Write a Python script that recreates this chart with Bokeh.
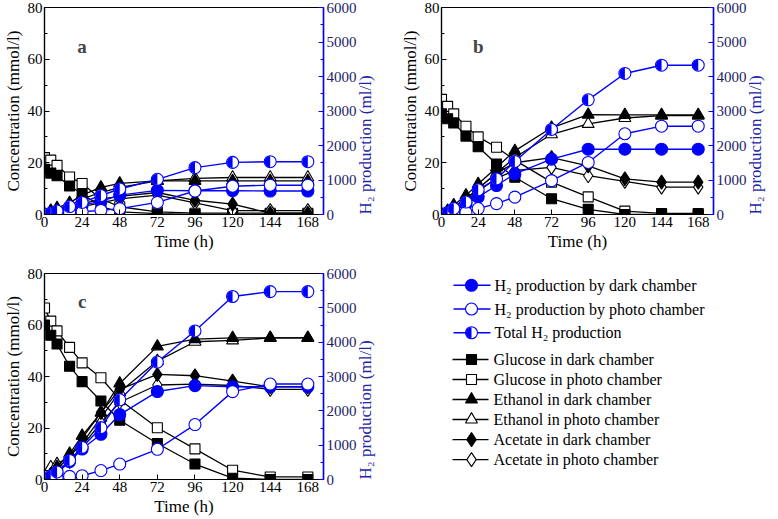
import math
from bokeh.plotting import figure
from bokeh.models import Range1d, LinearAxis, Label, FixedTicker
from bokeh.layouts import row, column
from bokeh.embed import file_html
from bokeh.resources import INLINE
from bokeh.core.properties import value

# ---------------- data ----------------
time_h = [0, 4, 8, 16, 24, 36, 48, 72, 96, 120, 144, 168]

# panel a
a_glucose_dark = [17.5, 16, 15, 11, 8, 3, 1, 0.3, 0, 0, 0, 0]
a_glucose_photo = [22, 21, 19, 14.5, 12, 6, 3, 1, 0.5, 0.5, 0.5, 0.5]
a_ethanol_dark = [0, 1.5, 2.5, 4.5, 7.5, 10.5, 12, 13, 13, 13, 13, 13]
a_ethanol_photo = [0, 1, 2, 3.5, 6, 8.5, 10.5, 13, 14, 14.3, 14.3, 14.3]
a_acetate_dark = [0, 1, 1.5, 3, 4, 6, 7, 8.5, 5.5, 4, 0.5, 0.5]
a_acetate_photo = [0, 0.5, 1, 2, 3, 4.5, 6, 7.5, 4.5, 1.5, 1.5, 1.5]
a_h2_dark = [0, 20, 60, 170, 270, 380, 560, 700, 690, 690, 680, 680]
a_h2_photo = [0, 10, 30, 60, 80, 120, 170, 350, 680, 820, 850, 850]
a_h2_total = [0, 40, 100, 230, 350, 550, 740, 1020, 1360, 1510, 1530, 1530]

# panel b
b_glucose_dark = [38.9, 37, 35.4, 30.3, 26.2, 19.5, 14.4, 6.1, 2, 0, 0, 0]
b_glucose_photo = [44.5, 41.8, 38.9, 34.1, 30, 26, 21, 12.5, 6.8, 1.3, 0.4, 0.4]
b_ethanol_dark = [0, 1.5, 3.6, 7.4, 11.8, 18.2, 24.6, 33.5, 38.6, 38.5, 38.5, 38.5]
b_ethanol_photo = [0, 1, 3, 6, 10, 16, 22, 31, 35, 37.3, 38.2, 38.2]
b_acetate_dark = [0, 1, 3, 6, 10, 16, 20, 22, 18.8, 13.8, 12.5, 12.5]
b_acetate_photo = [0, 0.5, 2, 5, 9, 14, 17, 18.2, 15, 12.8, 10.6, 10.6]
b_h2_dark = [0, 40, 120, 300, 505, 840, 1175, 1605, 1892, 1892, 1892, 1892]
b_h2_photo = [0, 10, 30, 60, 172, 315, 505, 983, 1508, 2340, 2560, 2560]
b_h2_total = [0, 60, 172, 361, 716, 1032, 1537, 2464, 3324, 4088, 4327, 4327]

# panel c
c_glucose_dark = [60, 56, 52.6, 44, 38, 30.5, 23, 14, 6, 0.5, 0, 0]
c_glucose_photo = [66.6, 61.5, 57.7, 51.3, 45.3, 39.5, 31, 20.1, 11.9, 3.6, 1, 1]
c_ethanol_dark = [0, 2, 4.9, 10, 17, 25.9, 37.3, 51.7, 54.5, 55, 55, 55]
c_ethanol_photo = [0, 4.8, 6, 9, 14, 24, 34, 46, 53.5, 54, 55, 55]
c_acetate_dark = [0, 2, 4, 9, 16, 26, 35, 40.8, 40.3, 38.2, 36, 36]
c_acetate_photo = [0, 1, 3, 7, 13, 22, 30, 36.7, 37, 36.5, 35, 35]
c_h2_dark = [0, 50, 180, 520, 888, 1318, 1891, 2562, 2733, 2700, 2700, 2700]
c_h2_photo = [0, 20, 60, 90, 110, 260, 450, 880, 1600, 2560, 2780, 2780]
c_h2_total = [0, 100, 220, 556, 937, 1510, 2321, 3421, 4327, 5330, 5473, 5473]

x_ticks = [0, 24, 48, 72, 96, 120, 144, 168]
conc_ticks = [0, 20, 40, 60, 80]
h2_ticks = [0, 1000, 2000, 3000, 4000, 5000, 6000]

legend_labels_h2 = ["H\u2082 production by dark chamber",
                    "H\u2082 production by photo chamber",
                    "Total H\u2082 production"]
legend_labels_conc = ["Glucose in dark chamber", "Glucose in photo chamber",
                      "Ethanol in dark chamber", "Ethanol in photo chamber",
                      "Acetate in dark chamber", "Acetate in photo chamber"]

FONT = "Liberation Serif"
BLUE = "#0000FF"


def style_axis(ax, color="black"):
    ax.axis_line_color = color
    ax.axis_line_width = 1.2
    ax.major_tick_line_color = color
    ax.minor_tick_line_color = color
    ax.major_tick_in = 5
    ax.major_tick_out = 0
    ax.minor_tick_in = 3
    ax.minor_tick_out = 0
    ax.major_label_text_font = FONT
    ax.major_label_text_font_size = "15px"
    ax.major_label_text_color = "black"
    ax.axis_label_text_font = FONT
    ax.axis_label_text_font_size = "17px"
    ax.axis_label_text_font_style = "normal"
    ax.axis_label_text_color = "black"
    ax.major_label_standoff = 2
    ax.axis_label_standoff = 2


def make_panel(letter, letter_y, glu_d, glu_p, eth_d, eth_p, ace_d, ace_p,
               h2_d, h2_p, h2_t, width, height, bl, br, bt, bb):
    p = figure(width=width, height=height, x_range=Range1d(0, 178),
               y_range=Range1d(0, 80), output_backend="svg",
               toolbar_location=None, min_border_left=bl, min_border_right=br,
               min_border_top=bt, min_border_bottom=bb)
    p.extra_y_ranges = {"h2": Range1d(0, 6000)}
    p.grid.visible = False
    p.outline_line_color = "black"
    p.outline_line_width = 1.2
    p.xaxis.ticker = FixedTicker(ticks=x_ticks)
    p.yaxis.ticker = FixedTicker(ticks=conc_ticks, minor_ticks=[10, 30, 50, 70])
    p.xaxis.axis_label = "Time (h)"
    p.yaxis.axis_label = "Concentration (mmol/l)"
    for ax in p.xaxis + p.yaxis:
        style_axis(ax)
    rax = LinearAxis(y_range_name="h2", axis_label="H\u2082 production (ml/l)",
                     ticker=FixedTicker(ticks=h2_ticks,
                                        minor_ticks=[500, 1500, 2500, 3500, 4500, 5500]))
    style_axis(rax, BLUE)
    rax.axis_line_width = 1.5
    rax.major_label_text_color = "#1c1c66"
    rax.axis_label_text_color = "#2424a8"
    rax.major_label_standoff = 3
    rax.axis_label_standoff = 6
    rax.axis_label_orientation = math.pi / 2
    rax.axis_label_align = "start"
    p.add_layout(rax, "right")

    black_series = [
        (glu_p, "square", "white", 10),
        (glu_d, "square", "black", 10),
        (eth_p, "triangle", "white", 12),
        (eth_d, "triangle", "black", 12),
        (ace_p, "diamond", "white", 14),
        (ace_d, "diamond", "black", 14),
    ]
    for ys, marker, fill, size in black_series:
        p.line(time_h, ys, line_color="black", line_width=1.3)
        p.scatter(time_h, ys, marker=marker, size=size, fill_color=fill,
                  line_color="black", line_width=1.1)

    p.line(time_h, h2_d, line_color=BLUE, line_width=1.4, y_range_name="h2")
    p.scatter(time_h, h2_d, marker="circle", size=12, fill_color=BLUE,
              line_color=BLUE, line_width=1.1, y_range_name="h2")
    p.line(time_h, h2_p, line_color=BLUE, line_width=1.4, y_range_name="h2")
    p.scatter(time_h, h2_p, marker="circle", size=12, fill_color="white",
              line_color=BLUE, line_width=1.1, y_range_name="h2")
    p.line(time_h, h2_t, line_color=BLUE, line_width=1.4, y_range_name="h2")
    p.scatter(time_h, h2_t, marker="circle", size=12, fill_color="white",
              line_color=BLUE, line_width=1.1, y_range_name="h2")
    p.wedge(time_h, h2_t, radius=5.6, radius_units="screen",
            start_angle=math.pi / 2, end_angle=3 * math.pi / 2,
            fill_color=BLUE, line_color=None, y_range_name="h2")

    p.add_layout(Label(x=24, y=letter_y, text=letter, text_font=FONT,
                       text_font_style="bold", text_font_size="19px",
                       text_align="center", text_baseline="middle"))
    return p


W1, W2 = 390, 387
H1, H2 = 258, 260
pa = make_panel("a", 65, a_glucose_dark, a_glucose_photo, a_ethanol_dark,
                a_ethanol_photo, a_acetate_dark, a_acetate_photo,
                a_h2_dark, a_h2_photo, a_h2_total, W1, H1, 42, 67, 7, 44)
pb = make_panel("b", 65, b_glucose_dark, b_glucose_photo, b_ethanol_dark,
                b_ethanol_photo, b_acetate_dark, b_acetate_photo,
                b_h2_dark, b_h2_photo, b_h2_total, W2, H1, 51, 59, 7, 44)
pc = make_panel("c", 69, c_glucose_dark, c_glucose_photo, c_ethanol_dark,
                c_ethanol_photo, c_acetate_dark, c_acetate_photo,
                c_h2_dark, c_h2_photo, c_h2_total, W1, H2, 42, 67, 15, 35)

# ---------------- legend panel (page-pixel coordinates) ----------------
LB, LR, LT, LBo = 51, 59, 15, 35
leg = figure(width=W2, height=H2,
             x_range=Range1d(W1 + LB, W1 + W2 - LR),
             y_range=Range1d(H1 + H2 - LBo, H1 + LT),
             output_backend="svg", toolbar_location=None,
             x_axis_location=None, y_axis_location=None,
             min_border_left=LB, min_border_right=LR, min_border_top=LT,
             min_border_bottom=LBo)
leg.grid.visible = False
leg.outline_line_color = None

key_x0, key_xm, key_x1, text_x = 453, 471, 490, 494
h2_rows = [285 + 24.2 * i for i in range(len(legend_labels_h2))]
conc_rows = [360.7 + 20.4 * i for i in range(len(legend_labels_conc))]

for yy in h2_rows:
    leg.line([key_x0, key_x1], [yy, yy], line_color=BLUE, line_width=1.5)
leg.scatter([key_xm], [h2_rows[0]], marker="circle", size=12, fill_color=BLUE,
            line_color=BLUE, line_width=1.1)
leg.scatter([key_xm, key_xm], h2_rows[1:], marker="circle", size=12,
            fill_color="white", line_color=BLUE, line_width=1.1)
leg.wedge([key_xm], [h2_rows[2]], radius=5.6, radius_units="screen",
          start_angle=math.pi / 2, end_angle=3 * math.pi / 2,
          fill_color=BLUE, line_color=None)
leg.text([text_x] * len(h2_rows), h2_rows, text=legend_labels_h2,
         text_baseline="middle", text_font=value(FONT), text_font_size="16px",
         text_color="black")

conc_markers = [("square", "black", 10), ("square", "white", 10),
                ("triangle", "black", 12), ("triangle", "white", 12),
                ("diamond", "black", 14), ("diamond", "white", 14)]
for yy, (mk, fc, sz) in zip(conc_rows, conc_markers):
    leg.line([key_x0 - 1, key_x1 - 2], [yy, yy], line_color="black", line_width=1.4)
    leg.scatter([key_xm], [yy], marker=mk, size=sz, fill_color=fc,
                line_color="black", line_width=1.1)
leg.text([text_x - 1] * len(conc_rows), conc_rows, text=legend_labels_conc,
         text_baseline="middle", text_font=value(FONT), text_font_size="16px",
         text_color="black")

layout = column(row(pa, pb), row(pc, leg))
open("out.html", "w").write(file_html(layout, INLINE))
